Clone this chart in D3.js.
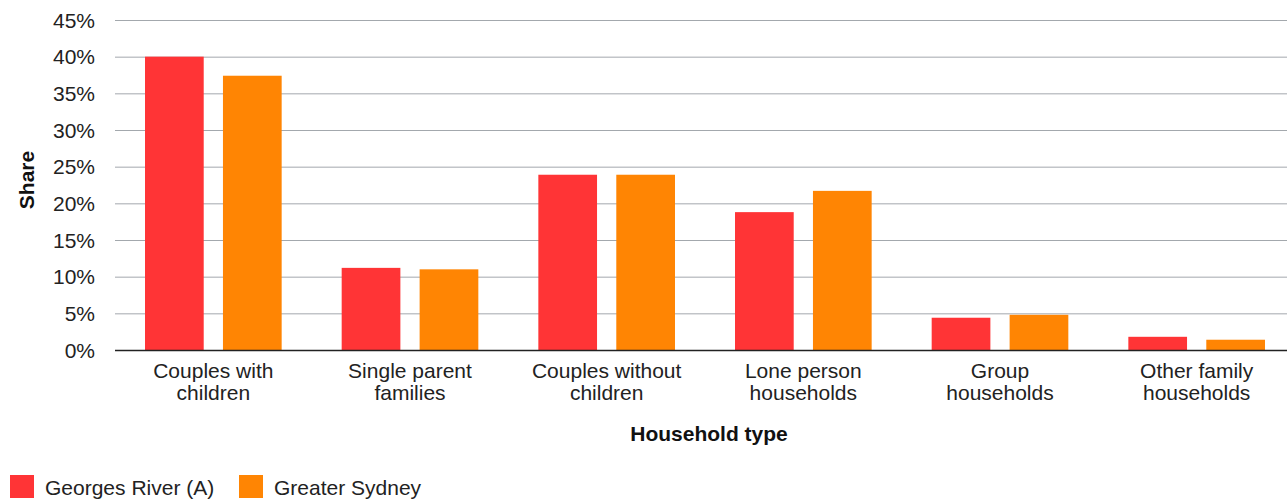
<!DOCTYPE html>
<html>
<head>
<meta charset="utf-8">
<script src="https://cdn.jsdelivr.net/npm/d3@7/dist/d3.min.js"></script>
<style>
  html, body { margin: 0; padding: 0; background: #fff; }
  svg { display: block; font-family: "Liberation Sans", Arial, sans-serif; }
</style>
</head>
<body>
<svg id="chart" width="1287" height="502"></svg>
<script>
// Household types (category axis), one label line per array entry
const categories = [
  ["Couples with", "children"],
  ["Single parent", "families"],
  ["Couples without", "children"],
  ["Lone person", "households"],
  ["Group", "households"],
  ["Other family", "households"]
];
const seriesNames = ["Georges River (A)", "Greater Sydney"];
// Share of households, percent
const georgesRiver = [40.0, 11.2, 23.9, 18.8, 4.4, 1.8];
const greaterSydney = [37.4, 11.0, 23.9, 21.7, 4.8, 1.4];
const yTicks = [0, 5, 10, 15, 20, 25, 30, 35, 40, 45];
const colors = ["#ff3436", "#ff8503"];

const svg = d3.select("#chart");
const margin = { left: 115, top: 20, bottom: 350 };
const plotRight = 1295;

const x0 = d3.scaleBand()
  .domain(d3.range(categories.length))
  .range([margin.left, plotRight])
  .paddingInner(0)
  .paddingOuter(0);

const x1 = d3.scaleBand()
  .domain(d3.range(seriesNames.length))
  .range([0, x0.bandwidth()])
  .paddingInner(0.247)
  .paddingOuter(0.385);

const y = d3.scaleLinear().domain([0, 45]).range([margin.bottom, margin.top]);

// Gridlines
svg.append("g")
  .selectAll("line")
  .data(yTicks.filter(t => t > 0))
  .join("line")
  .attr("x1", margin.left)
  .attr("x2", plotRight)
  .attr("y1", d => y(d) + 0.5)
  .attr("y2", d => y(d) + 0.5)
  .attr("stroke", "#a3a8ad")
  .attr("stroke-width", 1);

// Y tick labels
svg.append("g")
  .selectAll("text")
  .data(yTicks)
  .join("text")
  .attr("x", margin.left - 20)
  .attr("y", d => y(d) + 7.5)
  .attr("text-anchor", "end")
  .attr("font-size", 21)
  .attr("fill", "#222")
  .text(d => d + "%");

// Bars
const series = [georgesRiver, greaterSydney];
const groups = svg.append("g")
  .selectAll("g")
  .data(categories.map((c, i) => i))
  .join("g")
  .attr("transform", i => `translate(${x0(i)},0)`);

groups.selectAll("rect")
  .data(i => series.map((s, k) => ({ k, v: s[i] })))
  .join("rect")
  .attr("x", d => x1(d.k))
  .attr("width", x1.bandwidth())
  .attr("y", d => y(d.v))
  .attr("height", d => y(0) - y(d.v))
  .attr("fill", d => colors[d.k]);

// Baseline
svg.append("line")
  .attr("x1", margin.left)
  .attr("x2", plotRight)
  .attr("y1", y(0) + 0.5)
  .attr("y2", y(0) + 0.5)
  .attr("stroke", "#222")
  .attr("stroke-width", 1.5);

// Category labels
const catLabels = svg.append("g")
  .selectAll("text")
  .data(categories)
  .join("text")
  .attr("x", (d, i) => x0(i) + x0.bandwidth() / 2)
  .attr("y", 378)
  .attr("text-anchor", "middle")
  .attr("font-size", 21)
  .attr("fill", "#222");
catLabels.selectAll("tspan")
  .data(d => d)
  .join("tspan")
  .attr("x", function () { return d3.select(this.parentNode).attr("x"); })
  .attr("dy", (d, j) => j === 0 ? 0 : 22.3)
  .text(d => d);

// Axis titles
svg.append("text")
  .attr("x", 709)
  .attr("y", 441)
  .attr("text-anchor", "middle")
  .attr("font-size", 21)
  .attr("font-weight", "bold")
  .attr("fill", "#111")
  .text("Household type");

svg.append("text")
  .attr("transform", "translate(34,180) rotate(-90)")
  .attr("text-anchor", "middle")
  .attr("font-size", 21)
  .attr("font-weight", "bold")
  .attr("fill", "#111")
  .text("Share");

// Legend
const legendX = [10, 239];
const legend = svg.append("g")
  .selectAll("g")
  .data(seriesNames)
  .join("g")
  .attr("transform", (d, i) => `translate(${legendX[i]},475)`);
legend.append("rect")
  .attr("width", 24)
  .attr("height", 23)
  .attr("fill", (d, i) => colors[i]);
legend.append("text")
  .attr("x", 35)
  .attr("y", 20)
  .attr("font-size", 21)
  .attr("fill", "#222")
  .text(d => d);
</script>
</body>
</html>
